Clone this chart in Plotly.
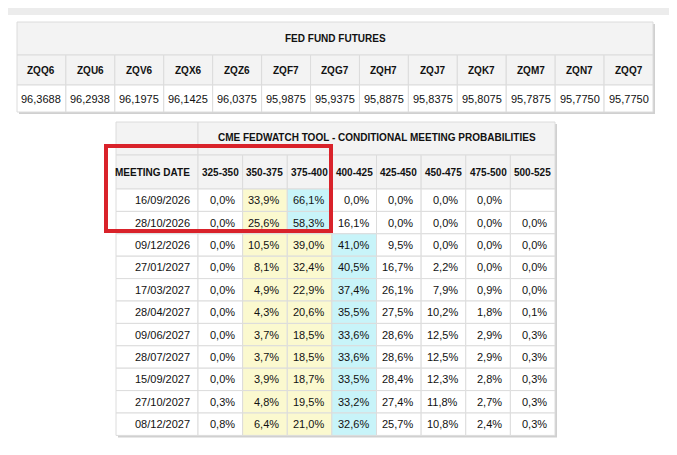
import plotly.graph_objects as go

fut_codes = ["ZQQ6","ZQU6","ZQV6","ZQX6","ZQZ6","ZQF7","ZQG7","ZQH7","ZQJ7","ZQK7","ZQM7","ZQN7","ZQQ7"]
fut_values = ["96,3688","96,2938","96,1975","96,1425","96,0375","95,9875","95,9375","95,8875","95,8375","95,8075","95,7875","95,7750","95,7750"]

ranges = ["325-350","350-375","375-400","400-425","425-450","450-475","475-500","500-525"]
dates = ["16/09/2026","28/10/2026","09/12/2026","27/01/2027","17/03/2027","28/04/2027",
         "09/06/2027","28/07/2027","15/09/2027","27/10/2027","08/12/2027"]
probs = [
    [0.0, 33.9, 66.1, 0.0, 0.0, 0.0, 0.0, None],
    [0.0, 25.6, 58.3, 16.1, 0.0, 0.0, 0.0, 0.0],
    [0.0, 10.5, 39.0, 41.0, 9.5, 0.0, 0.0, 0.0],
    [0.0, 8.1, 32.4, 40.5, 16.7, 2.2, 0.0, 0.0],
    [0.0, 4.9, 22.9, 37.4, 26.1, 7.9, 0.9, 0.0],
    [0.0, 4.3, 20.6, 35.5, 27.5, 10.2, 1.8, 0.1],
    [0.0, 3.7, 18.5, 33.6, 28.6, 12.5, 2.9, 0.3],
    [0.0, 3.7, 18.5, 33.6, 28.6, 12.5, 2.9, 0.3],
    [0.0, 3.9, 18.7, 33.5, 28.4, 12.3, 2.8, 0.3],
    [0.3, 4.8, 19.5, 33.2, 27.4, 11.8, 2.7, 0.3],
    [0.8, 6.4, 21.0, 32.6, 25.7, 10.8, 2.4, 0.3],
]

W, H = 677, 455
OFF = 8  # page body margin offset
FONT = "Liberation Sans"
GRID = "#dcdcdc"
HEAD = "#f3f3f3"
YEL = "#fbf9cf"
CYA = "#c8f4f9"

shapes, ann = [], []

def rect(x0, y0, x1, y1, fill, line=GRID, lw=1):
    shapes.append(dict(type="rect", x0=x0, y0=y0, x1=x1, y1=y1, fillcolor=fill,
                       line=dict(color=line, width=lw), layer="below"))

def text(x, y, s, anchor="center", bold=False, size=11):
    ann.append(dict(x=x, y=y, text=f"<b>{s}</b>" if bold else s, showarrow=False,
                    xanchor=anchor, yanchor="middle",
                    font=dict(family=FONT, size=size, color="#111")))

# top grey strip
shapes.append(dict(type="rect", x0=0, y0=0, x1=W, y1=8 + 7, fillcolor="#ececec", line=dict(width=0), layer="below"))

# ---- Table 1
tx0, tx1 = 17, 653
ty = [22, 55, 85, 112]
shapes.append(dict(type="rect", x0=tx0+2, y0=ty[0]+2, x1=tx1+2, y1=ty[3]+2, fillcolor="#d0d0d0", line=dict(width=0), layer="below"))
rect(tx0, ty[0], tx1, ty[1], HEAD)
text((tx0+tx1)/2, (ty[0]+ty[1])/2, "FED FUND FUTURES", bold=True, size=10)
cw = (tx1 - tx0) / len(fut_codes)
for i, (c, v) in enumerate(zip(fut_codes, fut_values)):
    x0 = tx0 + i*cw
    rect(x0, ty[1], x0+cw, ty[2], HEAD)
    rect(x0, ty[2], x0+cw, ty[3], "white")
    text(x0+cw/2, (ty[1]+ty[2])/2, c, bold=True, size=10)
    text(x0+cw/2, (ty[2]+ty[3])/2, v, size=11)

# ---- Table 2
bx0, dcol, bx1 = 116, 198, 555
by0, by1, by2 = 122, 155, 189
rh = 22.4
ncol = len(ranges)
pw = (bx1 - dcol) / ncol
bottom = by2 + rh*len(dates)
shapes.append(dict(type="rect", x0=bx0+2, y0=by0+2, x1=bx1+2, y1=bottom+2, fillcolor="#d0d0d0", line=dict(width=0), layer="below"))
rect(bx0, by0, dcol, by1, HEAD)
rect(dcol, by0, bx1, by1, HEAD)
text((dcol+bx1)/2, (by0+by1)/2-1, "CME FEDWATCH TOOL - CONDITIONAL MEETING PROBABILITIES", bold=True, size=10)
rect(bx0, by1, dcol, by2, HEAD)
text(dcol-6, (by1+by2)/2, "MEETING DATE", anchor="right", bold=True, size=10)
for j, r in enumerate(ranges):
    x0 = dcol + j*pw
    rect(x0, by1, x0+pw, by2, HEAD)
    text(x0+pw/2, (by1+by2)/2, r, bold=True, size=10)
for i, (d, row) in enumerate(zip(dates, probs)):
    y0 = by2 + i*rh
    rect(bx0, y0, dcol, y0+rh, "white")
    text(dcol-6, y0+rh/2, d, anchor="right")
    vals = [v if v is not None else -1 for v in row]
    mx = vals.index(max(vals))
    for j, v in enumerate(row):
        x0 = dcol + j*pw
        fill = CYA if j == mx else (YEL if 1 <= j < mx else "white")
        rect(x0, y0, x0+pw, y0+rh, fill)
        if v is not None:
            text(x0+pw-6, y0+rh/2, f"{v:.1f}%".replace(".", ","), anchor="right")

# red highlight box
shapes.append(dict(type="rect", x0=106, y0=146, x1=331, y1=231, fillcolor="rgba(0,0,0,0)",
                   line=dict(color="#d9222a", width=4), layer="above"))

fig = go.Figure()
fig.update_layout(width=W - OFF*2, height=H - OFF*2, margin=dict(l=0, r=0, t=0, b=0),
                  paper_bgcolor="white", plot_bgcolor="white",
                  xaxis=dict(range=[OFF, W - OFF], visible=False, fixedrange=True),
                  yaxis=dict(range=[H - OFF, OFF], visible=False, fixedrange=True),
                  shapes=shapes, annotations=ann, showlegend=False)
fig.write_html("out.html", config={"displayModeBar": False})
